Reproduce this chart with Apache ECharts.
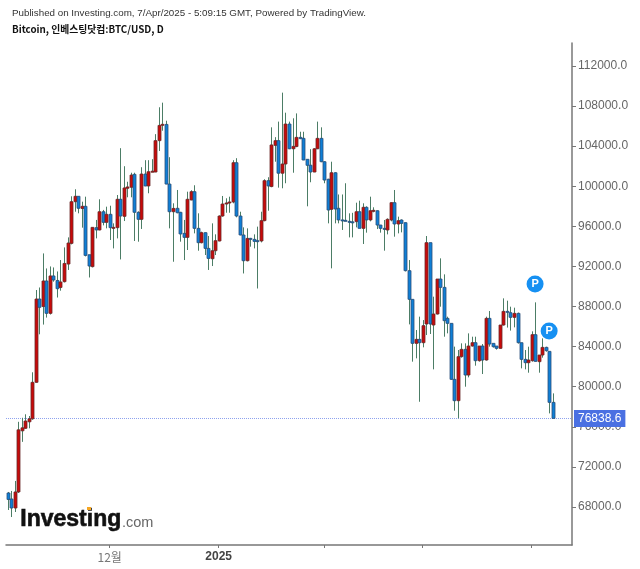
<!DOCTYPE html>
<html>
<head>
<meta charset="utf-8">
<title>Bitcoin BTC/USD</title>
<script src="https://cdn.jsdelivr.net/npm/echarts@6/dist/echarts.min.js"></script>
<style>
html, body { margin: 0; padding: 0; background: #fff; }
#main { width: 640px; height: 569px; }
</style>
</head>
<body>
<div id="main"></div>
<script>
var opens = [69400,68800,67900,69500,75600,75850,76500,76800,80440,88750,88000,90550,87320,91050,90600,89900,90480,92240,94300,98460,
99000,97780,98000,93170,91980,95870,95640,97460,96400,97200,95870,95870,98700,97000,99800,99900,101190,97400,96700,101220,
100030,101450,101420,104550,106100,106170,100220,97460,97800,97400,95300,94900,98630,99460,95800,94370,95370,93800,92770,93570,
94540,97030,98230,98330,98430,102350,97030,95140,92570,94800,94700,94570,94540,96570,100560,99970,104080,104550,101300,102220,
106210,103740,103960,104880,104780,102690,102100,101420,103740,104780,102450,100700,97700,101350,97800,96640,96600,96500,96450,96470,
97460,95800,97900,96640,97560,97560,96130,95800,95635,96633,98363,96234,96633,96367,91577,88717,84327,84725,84393,86255,
94372,86156,87254,90746,89915,86821,86322,80735,78606,83000,83728,81167,84061,84394,82597,84061,82664,86821,84327,84061,
83828,86156,87520,87387,86921,87320,84393,82730,82398,82597,85192,82498,83162,83927,83528,78440];
var highs = [69500,69600,70600,76500,76900,77250,77080,81440,89650,89900,93300,91800,92000,91900,91500,92640,93900,94900,99000,99700,
99000,98460,98960,93170,95900,96640,98700,97640,97963,98060,96300,99127,103800,102000,100450,101350,101350,97500,101900,102600,
102600,102700,105200,107880,108340,106540,102900,98300,99630,97450,96640,99460,99600,100100,97300,95470,95400,95040,96300,95203,
97100,99030,98800,98960,102600,102800,97460,95900,95800,94850,95200,95970,97460,100700,100900,105880,104900,106450,109340,107340,
106450,106780,107270,105440,105440,102700,103700,103800,106450,105880,102500,100750,102450,101400,99180,99180,100300,97300,97350,98360,
98560,98300,98000,98960,97900,97600,96150,96634,96800,98400,99627,96966,96700,96400,92640,88717,85657,86990,86650,95036,
94372,88983,90746,92808,91212,86988,86322,84000,83662,84327,84327,85324,84992,84992,84061,84260,86990,87553,84327,84061,
86156,88817,88584,87986,87886,87400,84393,83662,83994,85525,88418,83162,84826,83995,83528,79338];
var lows = [67700,67000,67500,69400,74500,75800,75850,76700,80400,85230,86200,86900,87200,90480,88900,89580,90400,91650,94200,97460,
97300,95870,93000,90900,91900,94800,95600,96100,95800,94640,93800,94800,92700,96530,98900,98900,94540,94470,95740,100000,
99300,101400,101400,103520,105540,100200,95800,92470,97300,94470,92640,93640,98600,95300,93570,94300,93140,91650,92040,93140,
94500,96960,97360,97360,98300,96900,95100,91300,92500,93970,93800,89800,94400,96500,97560,99900,102450,99860,99800,100300,
103700,101350,103900,104700,102600,98000,100400,101400,103700,102400,100300,96300,91810,96300,96300,95640,96500,94900,94900,95900,
95800,94240,95370,96500,97400,95730,95370,93573,95200,96500,94970,95300,95400,91500,86220,82500,82830,78500,83930,85158,
85260,81733,87200,87985,84992,85325,80700,77608,76844,82900,80003,80935,84000,82099,82500,81267,82600,84000,83900,83700,
83800,86100,85900,85600,85923,84300,81833,81733,81400,82500,82500,81400,82900,83500,77340,76838.6];
var closes = [68750,67900,69500,75700,75900,76580,76800,80440,88750,87920,90550,87320,91050,90650,89780,90450,92300,94340,98460,99000,
97800,98000,93100,92040,95900,95640,97460,96400,97200,95870,95900,98700,97030,99830,99930,101120,97400,96700,101220,100030,
101450,101500,104550,106070,106180,100220,97460,97790,97360,95240,94900,98700,99460,95800,94370,95370,93800,92800,93570,94570,
97030,98230,98330,98430,102350,97030,95140,92570,94800,94700,94500,94540,96570,100560,100030,104120,104550,101300,102220,106210,
103740,103980,104880,104750,102620,102090,101420,103740,104780,102450,100620,97630,101350,97730,96640,96600,96530,96450,96400,97460,
95800,97900,96640,97560,97600,96130,95800,95700,96700,98363,96234,96566,96300,91577,88717,84327,84725,84393,86090,94372,
86255,87254,90746,89915,86588,86322,80735,78606,83000,83728,81167,84061,84394,82597,84061,82664,86821,84260,83994,83828,
86156,87520,87420,86921,87320,84393,82730,82398,82664,85192,82530,83162,83927,83595,78440,76838.6];

var yTicks = [68000,72000,76000,80000,84000,88000,92000,96000,100000,104000,108000,112000];
var xTicks = ['2024-12-02', '2025-01-02', '2025-02-01', '2025-03-01', '2025-04-01'];
var xTickLabels = { '2024-12-02': '{m|12월}', '2025-01-02': '{y|2025}' };
var pMarks = [['2025-04-02', 90250], ['2025-04-06', 85560]];
var lastPrice = 76838.6;

// one slot per day, Nov 3 to Apr 12 (chart leaves some room on the right)
var categories = [];
for (var d = 0; d < 161; d++) {
    var t = new Date(Date.UTC(2024, 10, 3 + d));
    categories.push(t.toISOString().slice(0, 10));
}
var candles = opens.map(function(o, i) {
    return [i, o, closes[i], lows[i], highs[i]];
});

function drawCandle(params, api) {
    var x = api.coord([api.value(0), 0])[0];
    var o = api.coord([api.value(0), api.value(1)])[1];
    var c = api.coord([api.value(0), api.value(2)])[1];
    var l = api.coord([api.value(0), api.value(3)])[1];
    var h = api.coord([api.value(0), api.value(4)])[1];
    var up = api.value(2) >= api.value(1);
    var px = Math.round(x) + 0.5;
    var top = Math.min(o, c), hgt = Math.max(Math.abs(o - c), 1);
    return {
        type: 'group',
        children: [{
            type: 'line',
            shape: { x1: px, y1: h, x2: px, y2: l },
            style: { stroke: '#4c7d66', lineWidth: 1 }
        }, {
            type: 'rect',
            shape: { x: px - 1.5, y: top, width: 3, height: hgt },
            style: { fill: up ? '#c80a0a' : '#0f7fd6', stroke: up ? '#6b2a2a' : '#2b4f78', lineWidth: 0.8 }
        }]
    };
}

var chart = echarts.init(document.getElementById('main'));
chart.setOption({
    animation: false,
    backgroundColor: '#fff',
    textStyle: { fontFamily: 'Liberation Sans' },
    grid: { left: 6, right: 68, top: 43, bottom: 24 },
    xAxis: {
        type: 'category',
        data: categories,
        boundaryGap: true,
        axisLine: { lineStyle: { color: '#777', width: 1.5 } },
        axisTick: {
            show: true,
            alignWithLabel: true,
            length: 3,
            lineStyle: { color: '#777' },
            interval: function(i, v) { return xTicks.indexOf(v) >= 0; }
        },
        axisLabel: {
            interval: function(i, v) { return !!xTickLabels[v]; },
            formatter: function(v) { return xTickLabels[v] || ''; },
            margin: 6,
            rich: {
                m: { color: '#777', fontSize: 12, fontFamily: 'Noto Sans CJK KR' },
                y: { color: '#444', fontSize: 12, fontWeight: 'bold', fontFamily: 'Liberation Sans' }
            }
        },
        splitLine: { show: false }
    },
    yAxis: {
        type: 'value',
        position: 'right',
        min: 64209,
        max: 114293,
        axisLine: { show: true, lineStyle: { color: '#777', width: 1.5 } },
        axisTick: { show: true, length: 4, lineStyle: { color: '#777' }, customValues: yTicks },
        axisLabel: {
            color: '#666',
            fontSize: 12,
            margin: 6,
            customValues: yTicks,
            formatter: function(v) { return v.toFixed(1); }
        },
        splitLine: { show: false }
    },
    series: [{
        type: 'custom',
        z: 5,
        data: candles,
        renderItem: drawCandle,
        encode: { x: 0, y: [1, 2, 3, 4] },
        markLine: {
            silent: true,
            symbol: 'none',
            lineStyle: { color: '#8ea2ee', type: 'dotted', width: 1 },
            label: {
                position: 'end',
                distance: 2,
                formatter: function(p) { return p.value.toFixed(1); },
                color: '#fff',
                fontSize: 12,
                backgroundColor: '#4a70e2',
                padding: [3, 4, 2, 4]
            },
            data: [{ yAxis: lastPrice }]
        },
        markPoint: {
            silent: true,
            symbol: 'circle',
            symbolSize: 17,
            itemStyle: { color: '#1690f2' },
            label: { show: true, formatter: 'P', color: '#fff', fontSize: 11, fontWeight: 'bold' },
            data: pMarks.map(function(m) { return { coord: m }; })
        }
    }],
    graphic: [
        { type: 'text', left: 12, top: 8, style: { text: 'Published on Investing.com, 7/Apr/2025 - 5:09:15 GMT, Powered by TradingView.', fill: '#333', font: '9.8px "Liberation Sans"' } },
        { type: 'text', left: 12, top: 24, style: { text: 'Bitcoin, 인베스팅닷컴:BTC/USD, D', fill: '#111', font: 'bold 9.8px "Noto Sans CJK KR"' } },
        { type: 'text', left: 20, top: 508, style: { text: 'Investing', fill: '#111', stroke: '#111', lineWidth: 0.6, font: 'bold 23px "Liberation Sans"' } },
        { type: 'text', left: 122, top: 515, style: { text: '.com', fill: '#666', font: '14.5px "Liberation Sans"' } },
        { type: 'rect', left: 87, top: 507, shape: { width: 4, height: 3 }, style: { fill: '#f5a623' } }
    ]
});
</script>
</body>
</html>
